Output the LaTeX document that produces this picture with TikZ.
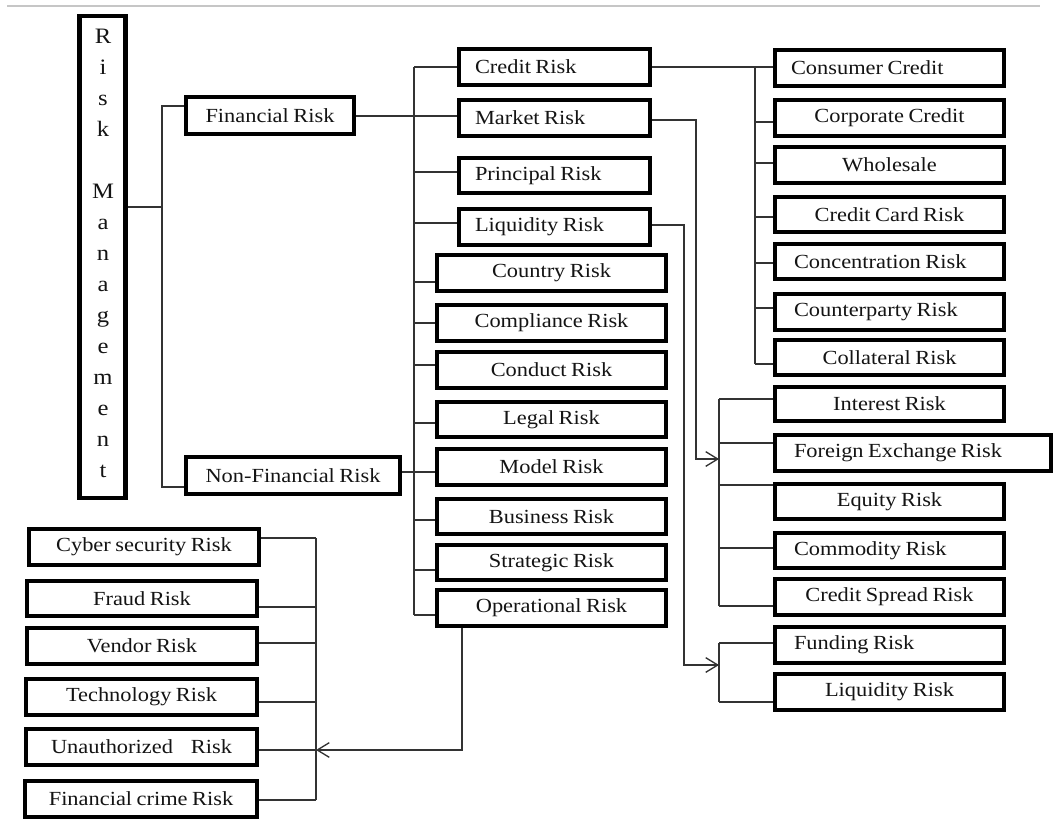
\documentclass[tikz,border=0pt]{standalone}
\usepackage{fontspec}
\setmainfont{Liberation Serif}[WordSpace=0.8]
\usepackage{graphicx}
\usetikzlibrary{arrows.meta}
\definecolor{lncol}{HTML}{333333}
\definecolor{txtcol}{HTML}{141414}
\newcommand\wt[1]{\scalebox{1.12}[1]{#1}}
% centred box: name, x1, y1, x2, y2, text  (outer edges in px)
\newcommand\cbox[6]{%
  \pgfmathsetmacro\bxw{(#4-#2-4.4)*0.75}%
  \pgfmathsetmacro\bxh{(#5-#3-4.4)*0.75}%
  \node[bx,minimum width=\bxw pt,minimum height=\bxh pt] (#1) at ({(#2+#4)/2},{(#3+#5)/2}) {\wt{#6}};}
% left-aligned box: name, x1, y1, x2, y2, text, left pad
\newcommand\lbox[7]{%
  \pgfmathsetmacro\bxh{(#5-#3-4.4)*0.75}%
  \pgfmathsetmacro\bxtw{(#4-#2-2*#7)*0.75}%
  \pgfmathsetmacro\bxix{(#7-2.2)*0.75}%
  \node[bx,minimum height=\bxh pt,inner xsep=\bxix pt] (#1) at ({(#2+#4)/2},{(#3+#5)/2}) {\makebox[\bxtw pt][l]{\wt{#6}}};}
\tikzset{
  bx/.style={draw=black,line width=3.3pt,fill=white,inner sep=0pt,text=txtcol,
    font=\fontsize{15pt}{18pt}\selectfont},
  lt/.style={inner sep=0pt,text=txtcol,font=\fontsize{16.5pt}{18pt}\selectfont},
  ln/.style={draw=lncol,line width=1.2pt},
  arr/.style={ln,-{Straight Barb[length=9pt,width=11pt,line width=1pt]}},
  topline/.style={draw=gray!45,line width=1.5pt}
}
\begin{document}
\begin{tikzpicture}[x=0.75pt,y=-0.75pt]
\useasboundingbox (0,0) rectangle (1054,819);
\draw[topline] (7,6) -- (1040,6);

% Risk Management
\node[bx,line width=3.5pt,minimum width={46*0.75pt},minimum height={482*0.75pt}] (RM) at (102.5,257) {};
\foreach \l [count=\i from 0] in {R,i,s,k,{},M,a,n,a,g,e,m,e,n,t}
  \node[lt,anchor=base] (L\i) at (103,{43+31*\i}) {\wt{\l}};

\cbox{FR}{184}{95}{356}{136}{Financial Risk}
\cbox{NFR}{184}{455}{402}{496}{Non-Financial Risk}

% middle column
\lbox{CR}{457}{47}{652}{87}{Credit Risk}{18}
\lbox{MR}{457}{98}{652}{138}{Market Risk}{18}
\lbox{PR}{457}{156}{652}{195}{Principal Risk}{18}
\lbox{LR}{457}{207}{652}{247}{Liquidity Risk}{18}
\cbox{CoR}{435}{253}{668}{293}{Country Risk}
\cbox{CmR}{435}{303}{668}{343}{Compliance Risk}
\cbox{CdR}{435}{350}{668}{390}{Conduct Risk}
\cbox{LgR}{435}{400}{668}{439}{Legal Risk}
\cbox{MoR}{435}{447}{668}{487}{Model Risk}
\cbox{BR}{435}{497}{668}{536}{Business Risk}
\cbox{SR}{435}{543}{668}{582}{Strategic Risk}
\cbox{OR}{435}{588}{668}{628}{Operational Risk}

% right column
\lbox{CC}{773}{48}{1006}{88}{Consumer Credit}{18}
\cbox{CoC}{773}{98}{1006}{138}{Corporate Credit}
\cbox{WS}{773}{145}{1006}{185}{Wholesale}
\cbox{CCR}{773}{195}{1006}{234}{Credit Card Risk}
\lbox{CnR}{773}{242}{1006}{281}{Concentration Risk}{21}
\lbox{CpR}{773}{292}{1006}{332}{Counterparty Risk}{21}
\cbox{ClR}{773}{338}{1006}{377}{Collateral Risk}
\cbox{IR}{773}{385}{1006}{423}{Interest Risk}
\lbox{FX}{773}{433}{1053}{473}{Foreign Exchange Risk}{21}
\cbox{ER}{773}{482}{1006}{521}{Equity Risk}
\lbox{CmdR}{773}{531}{1006}{570}{Commodity Risk}{21}
\cbox{CSR}{773}{577}{1006}{617}{Credit Spread Risk}
\lbox{FuR}{773}{625}{1006}{665}{Funding Risk}{21}
\cbox{LR2}{773}{672}{1006}{712}{Liquidity Risk}

% bottom-left column
\cbox{Cy}{27}{527}{261}{567}{Cyber security Risk}
\cbox{Fr}{25}{579}{259}{618}{Fraud Risk}
\cbox{Ve}{25}{626}{259}{666}{Vendor Risk}
\cbox{Te}{24}{677}{259}{717}{Technology Risk}
\cbox{Un}{24}{727}{259}{767}{Unauthorized\hspace{0.6em} Risk}
\cbox{Fc}{23}{779}{259}{819}{Financial crime Risk}

% connectors: Risk Management
\coordinate (j0) at (162,207);
\draw[ln] (RM.east |- j0) -- (j0);
\draw[ln] (162,106 -| FR.west) -| (162,487) -- (162,487 -| NFR.west);
\draw[ln] (FR.east |- 0,116) -- (MR.west |- 0,116);
\draw[ln] (NFR.east |- 0,472) -- (MoR.west |- 0,472);

% middle trunk
\coordinate (mt1) at (414,67);
\coordinate (mt2) at (414,615);
\draw[ln] (mt1) -- (mt2);
\foreach \n/\y in {CR/67,PR/172,LR/223,CoR/282,CmR/323,CdR/365,LgR/423,BR/520,SR/570,OR/615}
  \draw[ln] (414,\y) -- (414,\y -| \n.west);

% credit subtree
\draw[ln] (CR.east |- 0,67) -- (CC.west |- 0,67);
\coordinate (ct1) at (755,67);
\coordinate (ct2) at (755,364);
\draw[ln] (ct1) -- (ct2);
\foreach \n/\y in {CoC/122,WS/163,CCR/217,CnR/263,CpR/308,ClR/364}
  \draw[ln] (755,\y) -- (755,\y -| \n.west);

% market subtree
\coordinate (mk) at (719,459);
\draw[arr] (MR.east |- 0,120) -| (696,459) -- (mk);
\draw[ln] (719,399) -- (719,606);
\foreach \n/\y in {IR/399,FX/443,ER/485,CmdR/548,CSR/606}
  \draw[ln] (719,\y) -- (719,\y -| \n.west);

% liquidity subtree
\coordinate (lq) at (719,665);
\draw[arr] (LR.east |- 0,225) -| (684,665) -- (lq);
\draw[ln] (719,643) -- (719,702);
\foreach \n/\y in {FuR/643,LR2/702}
  \draw[ln] (719,\y) -- (719,\y -| \n.west);

% operational subtree
\coordinate (op) at (316,750);
\draw[arr] (OR.south -| 462,0) |- (op);
\draw[ln] (316,538) -- (316,800);
\foreach \n/\y in {Cy/538,Fr/607,Ve/643,Te/702,Un/750,Fc/800}
  \draw[ln] (316,\y) -- (316,\y -| \n.east);
\end{tikzpicture}
\end{document}
